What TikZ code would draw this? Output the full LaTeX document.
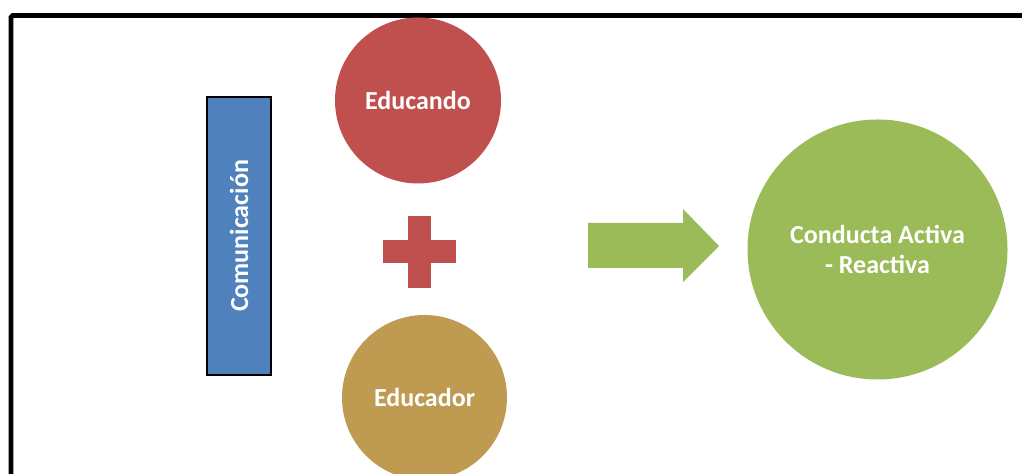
\documentclass[tikz,border=0pt]{standalone}
\usepackage{fontspec}
\setmainfont{Carlito}
\usetikzlibrary{positioning}

\definecolor{comblue}{RGB}{79,129,189}
\definecolor{educandored}{RGB}{192,80,77}
\definecolor{educadortan}{RGB}{191,155,82}
\definecolor{conductagreen}{RGB}{155,187,89}

\tikzset{
	blob/.style={circle, inner sep=0pt, text=white, align=center,
		font=\bfseries\fontsize{14.8}{17}\selectfont},
	label text/.style={text=white, font=\bfseries\fontsize{14.8}{17}\selectfont}
}

\begin{document}
\begin{tikzpicture}
\useasboundingbox (0,0) rectangle (20.44,9.48);
\clip (0,0) rectangle (20.44,9.48);

% frame
\coordinate (frameBL) at (0.22,-1);
\coordinate (frameTL) at (0.22,9.17);
\coordinate (frameTR) at (21,9.17);
\draw [line width=2.8pt, rounded corners=1pt] (frameBL) -- (frameTL) -- (frameTR);

% comunicacion bar
\node [rotate=90, draw=black, line width=0.8pt, fill=comblue, minimum width=5.56cm,
	minimum height=1.28cm, inner sep=0pt, label text] (com) at (4.78,4.76) {Comunicación};

\begin{scope}
\def\x{8.36};

\node [blob, fill=educandored, minimum size=3.32cm] (educando) at (\x,7.47) {Educando};
\node [blob, fill=educadortan, minimum size=3.3cm] (educador) at (0.13+\x,1.53) {Educador};

\coordinate (plus) at (0.03+\x,4.44);
\fill [educandored] (plus) ++(-0.73,-0.23) rectangle ++(1.46,0.46);
\fill [educandored] (plus) ++(-0.23,-0.72) rectangle ++(0.46,1.44);
\end{scope}

% arrow
\fill [conductagreen] (11.76,4.12) -- (13.66,4.12) -- (13.66,3.84) -- (14.38,4.56)
	-- (13.66,5.30) -- (13.66,5.02) -- (11.76,5.02) -- cycle;

\node [blob, fill=conductagreen, minimum size=5.2cm] (conducta) at (17.55,4.49) {Conducta Activa\\- Reactiva};

\end{tikzpicture}
\end{document}
